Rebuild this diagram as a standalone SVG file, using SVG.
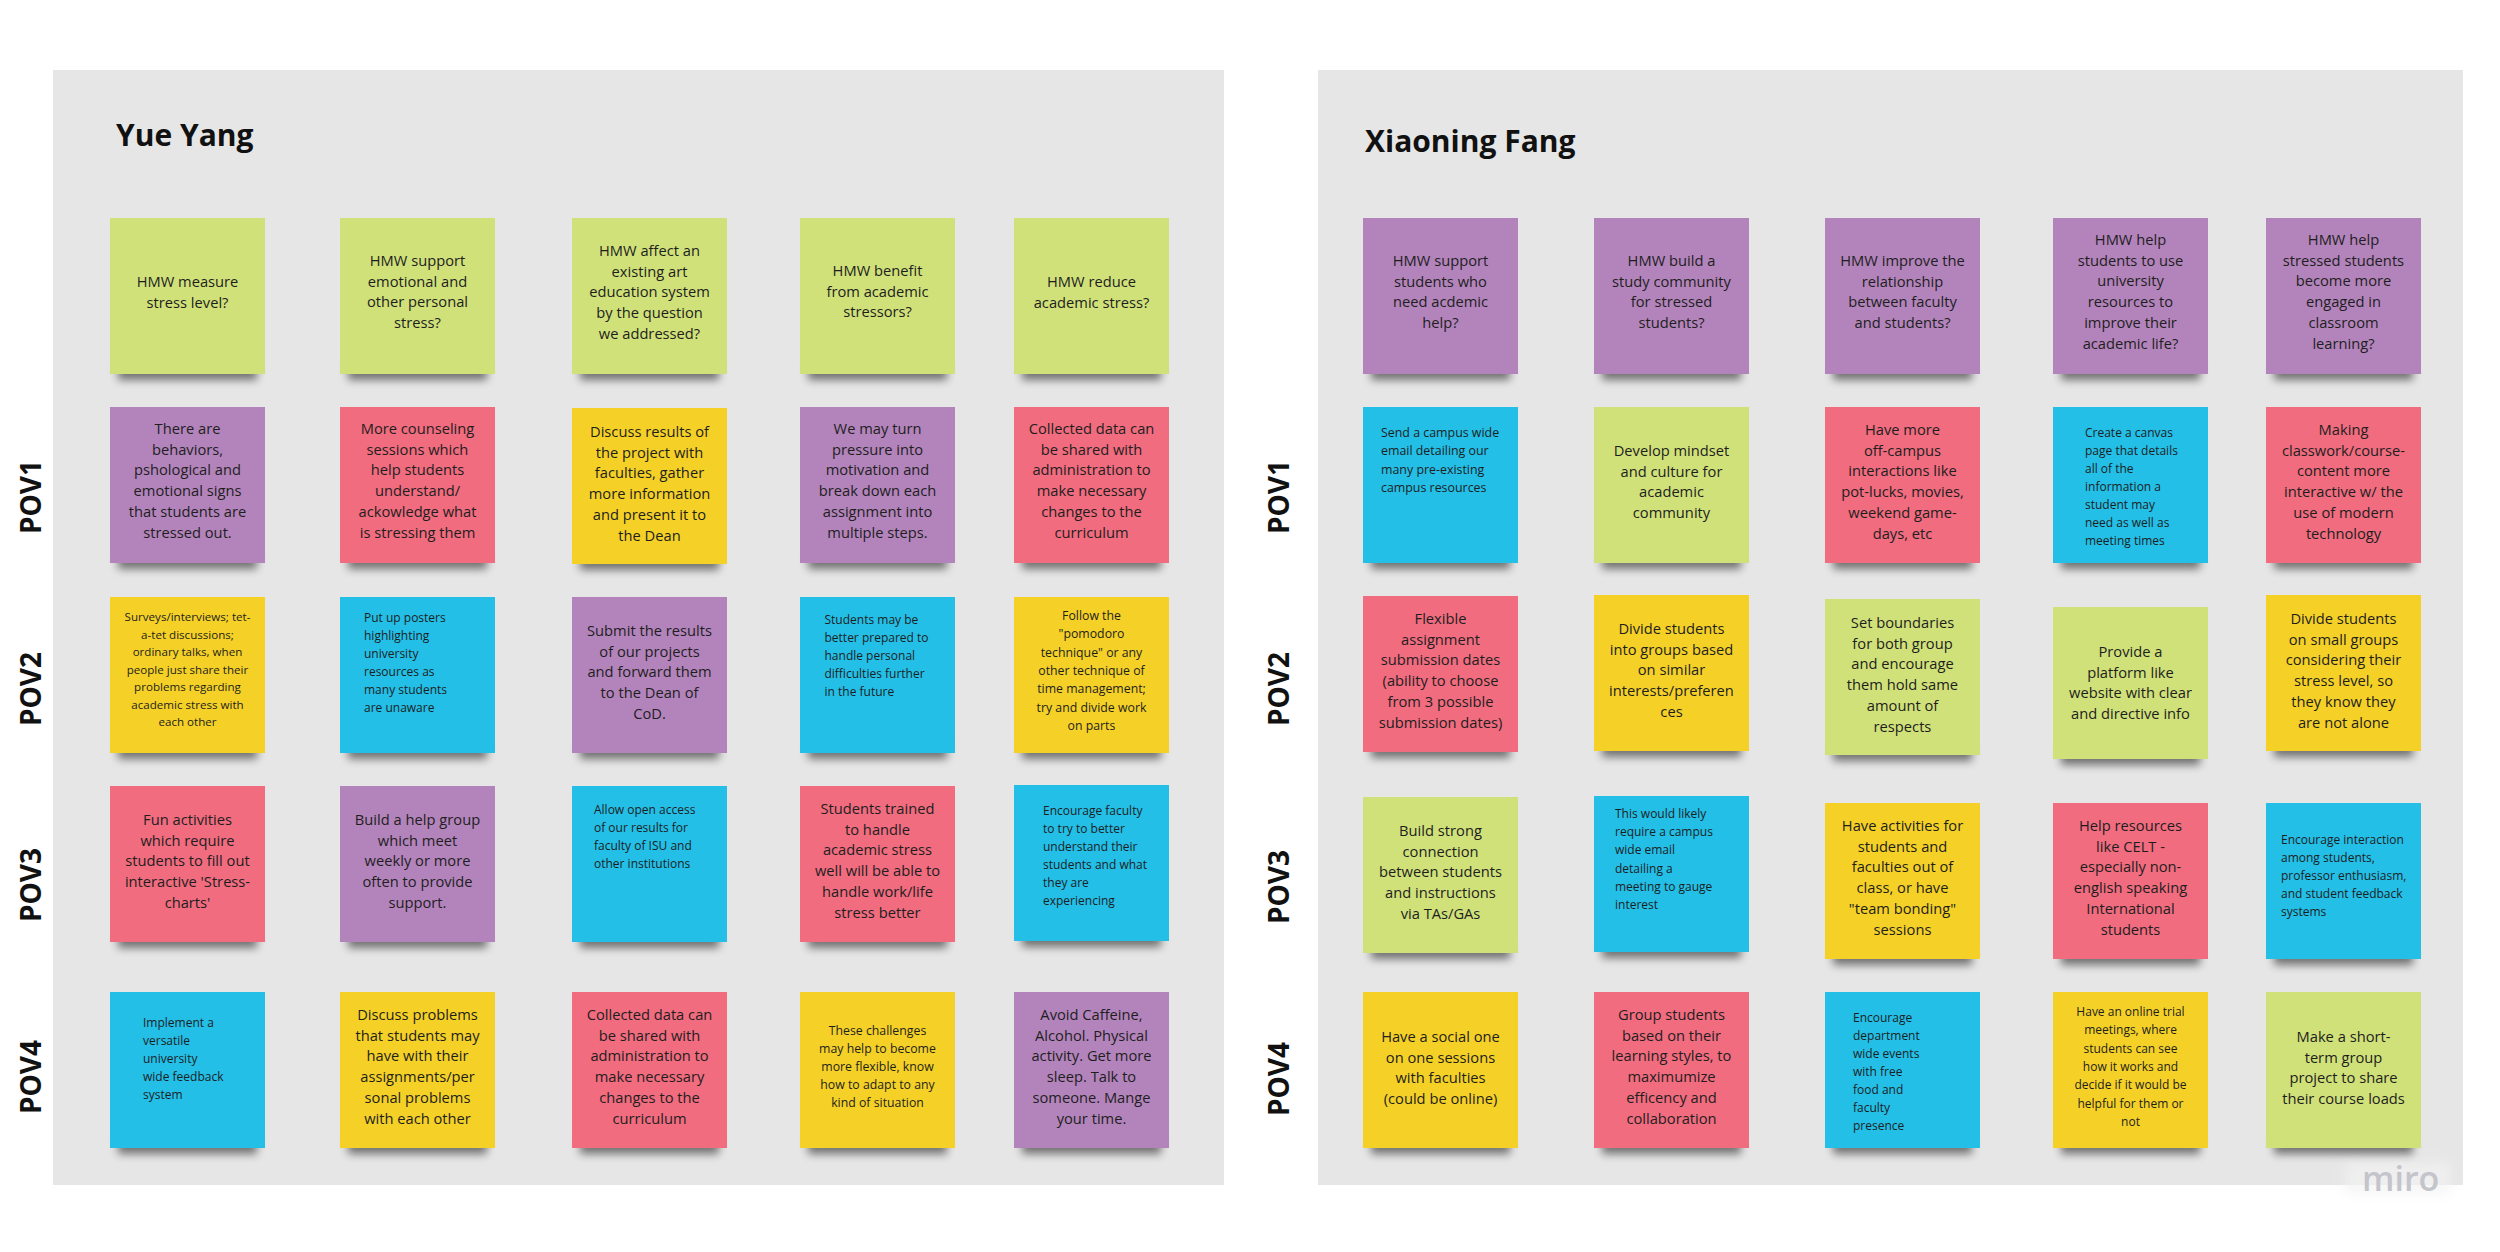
<svg xmlns="http://www.w3.org/2000/svg" width="2500" height="1252" viewBox="0 0 2500 1252">
<defs>
<filter id="blur" x="-20%" y="-100%" width="140%" height="300%"><feGaussianBlur stdDeviation="4"/></filter>
<filter id="soft" x="-20%" y="-50%" width="140%" height="200%"><feGaussianBlur stdDeviation="6"/></filter>
<style>
.panel{fill:#e6e6e6}
.sh{fill:#000;opacity:.5;filter:url(#blur)}
.g{fill:#d0e17a}.p{fill:#b384bb}.r{fill:#f16c7f}.y{fill:#f5d128}.b{fill:#23bfe7}
text{font-family:"Open Sans","Liberation Sans",sans-serif;fill:#1e1e1e}
.tb{font-size:14.7px}
.ts{font-size:12px}
.c{text-anchor:middle}
.title{font-size:30px;font-weight:700;fill:#111}
.pov{font-size:28px;font-weight:700;fill:#111;text-anchor:middle}
.miro{font-size:34px;font-weight:600;fill:#c4c4cc}
</style>
</defs>
<rect width="2500" height="1252" fill="#fff"/>
<rect class="panel" x="53" y="70" width="1171" height="1115"/>
<rect class="panel" x="1318" y="70" width="1145" height="1115"/>
<rect x="2345" y="1162" width="106" height="32" fill="#f3f3f3" opacity="0.7" filter="url(#soft)"/>
<text class="title" x="116" y="146">Yue Yang</text>
<text class="title" x="1365" y="152">Xiaoning Fang</text>
<g id="pov-labels">
<text class="pov" transform="rotate(-90 41 497)" x="41" y="497">POV1</text>
<text class="pov" transform="rotate(-90 41 689)" x="41" y="689">POV2</text>
<text class="pov" transform="rotate(-90 41 885)" x="41" y="885">POV3</text>
<text class="pov" transform="rotate(-90 41 1077)" x="41" y="1077">POV4</text>
<text class="pov" transform="rotate(-90 1289 497)" x="1289" y="497">POV1</text>
<text class="pov" transform="rotate(-90 1289 689)" x="1289" y="689">POV2</text>
<text class="pov" transform="rotate(-90 1289 887)" x="1289" y="887">POV3</text>
<text class="pov" transform="rotate(-90 1289 1079)" x="1289" y="1079">POV4</text>
</g>
<g id="connectors"/>

<!-- LEFT PANEL -->
<g id="l11"><rect class="sh" x="118" y="362" width="139" height="18"/><rect class="g" x="110" y="218" width="155" height="156"/>
<text class="tb c" y="287"><tspan x="187.5">HMW measure</tspan><tspan x="187.5" dy="20.7">stress level?</tspan></text></g>
<g id="l12"><rect class="sh" x="348" y="362" width="139" height="18"/><rect class="g" x="340" y="218" width="155" height="156"/>
<text class="tb c" y="266"><tspan x="417.5">HMW support</tspan><tspan x="417.5" dy="20.7">emotional and</tspan><tspan x="417.5" dy="20.7">other personal</tspan><tspan x="417.5" dy="20.7">stress?</tspan></text></g>
<g id="l13"><rect class="sh" x="580" y="362" width="139" height="18"/><rect class="g" x="572" y="218" width="155" height="156"/>
<text class="tb c" y="256"><tspan x="649.5">HMW affect an</tspan><tspan x="649.5" dy="20.7">existing art</tspan><tspan x="649.5" dy="20.7">education system</tspan><tspan x="649.5" dy="20.7">by the question</tspan><tspan x="649.5" dy="20.7">we addressed?</tspan></text></g>
<g id="l14"><rect class="sh" x="808" y="362" width="139" height="18"/><rect class="g" x="800" y="218" width="155" height="156"/>
<text class="tb c" y="276"><tspan x="877.5">HMW benefit</tspan><tspan x="877.5" dy="20.7">from academic</tspan><tspan x="877.5" dy="20.7">stressors?</tspan></text></g>
<g id="l15"><rect class="sh" x="1022" y="362" width="139" height="18"/><rect class="g" x="1014" y="218" width="155" height="156"/>
<text class="tb c" y="287"><tspan x="1091.5">HMW reduce</tspan><tspan x="1091.5" dy="20.7">academic stress?</tspan></text></g>

<g id="l21"><rect class="sh" x="118" y="551" width="139" height="18"/><rect class="p" x="110" y="407" width="155" height="156"/>
<text class="tb c" y="434"><tspan x="187.5">There are</tspan><tspan x="187.5" dy="20.7">behaviors,</tspan><tspan x="187.5" dy="20.7">pshological and</tspan><tspan x="187.5" dy="20.7">emotional signs</tspan><tspan x="187.5" dy="20.7">that students are</tspan><tspan x="187.5" dy="20.7">stressed out.</tspan></text></g>
<g id="l22"><rect class="sh" x="348" y="551" width="139" height="18"/><rect class="r" x="340" y="407" width="155" height="156"/>
<text class="tb c" y="434"><tspan x="417.5">More counseling</tspan><tspan x="417.5" dy="20.7">sessions which</tspan><tspan x="417.5" dy="20.7">help students</tspan><tspan x="417.5" dy="20.7">understand/</tspan><tspan x="417.5" dy="20.7">ackowledge what</tspan><tspan x="417.5" dy="20.7">is stressing them</tspan></text></g>
<g id="l23"><rect class="sh" x="580" y="552" width="139" height="18"/><rect class="y" x="572" y="408" width="155" height="156"/>
<text class="tb c" y="437"><tspan x="649.5">Discuss results of</tspan><tspan x="649.5" dy="20.7">the project with</tspan><tspan x="649.5" dy="20.7">faculties, gather</tspan><tspan x="649.5" dy="20.7">more information</tspan><tspan x="649.5" dy="20.7">and present it to</tspan><tspan x="649.5" dy="20.7">the Dean</tspan></text></g>
<g id="l24"><rect class="sh" x="808" y="551" width="139" height="18"/><rect class="p" x="800" y="407" width="155" height="156"/>
<text class="tb c" y="434"><tspan x="877.5">We may turn</tspan><tspan x="877.5" dy="20.7">pressure into</tspan><tspan x="877.5" dy="20.7">motivation and</tspan><tspan x="877.5" dy="20.7">break down each</tspan><tspan x="877.5" dy="20.7">assignment into</tspan><tspan x="877.5" dy="20.7">multiple steps.</tspan></text></g>
<g id="l25"><rect class="sh" x="1022" y="551" width="139" height="18"/><rect class="r" x="1014" y="407" width="155" height="156"/>
<text class="tb c" y="434"><tspan x="1091.5">Collected data can</tspan><tspan x="1091.5" dy="20.7">be shared with</tspan><tspan x="1091.5" dy="20.7">administration to</tspan><tspan x="1091.5" dy="20.7">make necessary</tspan><tspan x="1091.5" dy="20.7">changes to the</tspan><tspan x="1091.5" dy="20.7">curriculum</tspan></text></g>

<g id="l31"><rect class="sh" x="118" y="741" width="139" height="18"/><rect class="y" x="110" y="597" width="155" height="156"/>
<text class="ts c" style="font-size:11.6px" y="621"><tspan x="187.5">Surveys/interviews; tet-</tspan><tspan x="187.5" dy="17.5">a-tet discussions;</tspan><tspan x="187.5" dy="17.5">ordinary talks, when</tspan><tspan x="187.5" dy="17.5">people just share their</tspan><tspan x="187.5" dy="17.5">problems regarding</tspan><tspan x="187.5" dy="17.5">academic stress with</tspan><tspan x="187.5" dy="17.5">each other</tspan></text></g>
<g id="l32"><rect class="sh" x="348" y="741" width="139" height="18"/><rect class="b" x="340" y="597" width="155" height="156"/>
<text class="ts" y="622"><tspan x="364">Put up posters</tspan><tspan x="364" dy="18">highlighting</tspan><tspan x="364" dy="18">university</tspan><tspan x="364" dy="18">resources as</tspan><tspan x="364" dy="18">many students</tspan><tspan x="364" dy="18">are unaware</tspan></text></g>
<g id="l33"><rect class="sh" x="580" y="741" width="139" height="18"/><rect class="p" x="572" y="597" width="155" height="156"/>
<text class="tb c" y="636"><tspan x="649.5">Submit the results</tspan><tspan x="649.5" dy="20.7">of our projects</tspan><tspan x="649.5" dy="20.7">and forward them</tspan><tspan x="649.5" dy="20.7">to the Dean of</tspan><tspan x="649.5" dy="20.7">CoD.</tspan></text></g>
<g id="l34"><rect class="sh" x="808" y="741" width="139" height="18"/><rect class="b" x="800" y="597" width="155" height="156"/>
<text class="ts" y="624"><tspan x="824.5">Students may be</tspan><tspan x="824.5" dy="18">better prepared to</tspan><tspan x="824.5" dy="18">handle personal</tspan><tspan x="824.5" dy="18">difficulties further</tspan><tspan x="824.5" dy="18">in the future</tspan></text></g>
<g id="l35"><rect class="sh" x="1022" y="741" width="139" height="18"/><rect class="y" x="1014" y="597" width="155" height="156"/>
<text class="ts c" style="font-size:12.3px" y="620"><tspan x="1091.5">Follow the</tspan><tspan x="1091.5" dy="18.3">"pomodoro</tspan><tspan x="1091.5" dy="18.3">technique" or any</tspan><tspan x="1091.5" dy="18.3">other technique of</tspan><tspan x="1091.5" dy="18.3">time management;</tspan><tspan x="1091.5" dy="18.3">try and divide work</tspan><tspan x="1091.5" dy="18.3">on parts</tspan></text></g>

<g id="l41"><rect class="sh" x="118" y="930" width="139" height="18"/><rect class="r" x="110" y="786" width="155" height="156"/>
<text class="tb c" y="825"><tspan x="187.5">Fun activities</tspan><tspan x="187.5" dy="20.7">which require</tspan><tspan x="187.5" dy="20.7">students to fill out</tspan><tspan x="187.5" dy="20.7">interactive 'Stress-</tspan><tspan x="187.5" dy="20.7">charts'</tspan></text></g>
<g id="l42"><rect class="sh" x="348" y="930" width="139" height="18"/><rect class="p" x="340" y="786" width="155" height="156"/>
<text class="tb c" y="825"><tspan x="417.5">Build a help group</tspan><tspan x="417.5" dy="20.7">which meet</tspan><tspan x="417.5" dy="20.7">weekly or more</tspan><tspan x="417.5" dy="20.7">often to provide</tspan><tspan x="417.5" dy="20.7">support.</tspan></text></g>
<g id="l43"><rect class="sh" x="580" y="930" width="139" height="18"/><rect class="b" x="572" y="786" width="155" height="156"/>
<text class="ts" y="814"><tspan x="594">Allow open access</tspan><tspan x="594" dy="18">of our results for</tspan><tspan x="594" dy="18">faculty of ISU and</tspan><tspan x="594" dy="18">other institutions</tspan></text></g>
<g id="l44"><rect class="sh" x="808" y="930" width="139" height="18"/><rect class="r" x="800" y="786" width="155" height="156"/>
<text class="tb c" y="814"><tspan x="877.5">Students trained</tspan><tspan x="877.5" dy="20.7">to handle</tspan><tspan x="877.5" dy="20.7">academic stress</tspan><tspan x="877.5" dy="20.7">well will be able to</tspan><tspan x="877.5" dy="20.7">handle work/life</tspan><tspan x="877.5" dy="20.7">stress better</tspan></text></g>
<g id="l45"><rect class="sh" x="1022" y="929" width="139" height="18"/><rect class="b" x="1014" y="785" width="155" height="156"/>
<text class="ts" y="815"><tspan x="1043">Encourage faculty</tspan><tspan x="1043" dy="18">to try to better</tspan><tspan x="1043" dy="18">understand their</tspan><tspan x="1043" dy="18">students and what</tspan><tspan x="1043" dy="18">they are</tspan><tspan x="1043" dy="18">experiencing</tspan></text></g>

<g id="l51"><rect class="sh" x="118" y="1136" width="139" height="18"/><rect class="b" x="110" y="992" width="155" height="156"/>
<text class="ts" y="1027"><tspan x="143">Implement a</tspan><tspan x="143" dy="18">versatile</tspan><tspan x="143" dy="18">university</tspan><tspan x="143" dy="18">wide feedback</tspan><tspan x="143" dy="18">system</tspan></text></g>
<g id="l52"><rect class="sh" x="348" y="1136" width="139" height="18"/><rect class="y" x="340" y="992" width="155" height="156"/>
<text class="tb c" y="1020"><tspan x="417.5">Discuss problems</tspan><tspan x="417.5" dy="20.7">that students may</tspan><tspan x="417.5" dy="20.7">have with their</tspan><tspan x="417.5" dy="20.7">assignments/per</tspan><tspan x="417.5" dy="20.7">sonal problems</tspan><tspan x="417.5" dy="20.7">with each other</tspan></text></g>
<g id="l53"><rect class="sh" x="580" y="1136" width="139" height="18"/><rect class="r" x="572" y="992" width="155" height="156"/>
<text class="tb c" y="1020"><tspan x="649.5">Collected data can</tspan><tspan x="649.5" dy="20.7">be shared with</tspan><tspan x="649.5" dy="20.7">administration to</tspan><tspan x="649.5" dy="20.7">make necessary</tspan><tspan x="649.5" dy="20.7">changes to the</tspan><tspan x="649.5" dy="20.7">curriculum</tspan></text></g>
<g id="l54"><rect class="sh" x="808" y="1136" width="139" height="18"/><rect class="y" x="800" y="992" width="155" height="156"/>
<text class="ts c" style="font-size:12.3px" y="1035"><tspan x="877.5">These challenges</tspan><tspan x="877.5" dy="18">may help to become</tspan><tspan x="877.5" dy="18">more flexible, know</tspan><tspan x="877.5" dy="18">how to adapt to any</tspan><tspan x="877.5" dy="18">kind of situation</tspan></text></g>
<g id="l55"><rect class="sh" x="1022" y="1136" width="139" height="18"/><rect class="p" x="1014" y="992" width="155" height="156"/>
<text class="tb c" y="1020"><tspan x="1091.5">Avoid Caffeine,</tspan><tspan x="1091.5" dy="20.7">Alcohol. Physical</tspan><tspan x="1091.5" dy="20.7">activity. Get more</tspan><tspan x="1091.5" dy="20.7">sleep. Talk to</tspan><tspan x="1091.5" dy="20.7">someone. Mange</tspan><tspan x="1091.5" dy="20.7">your time.</tspan></text></g>

<!-- RIGHT PANEL -->
<g id="r11"><rect class="sh" x="1371" y="362" width="139" height="18"/><rect class="p" x="1363" y="218" width="155" height="156"/>
<text class="tb c" y="266"><tspan x="1440.5">HMW support</tspan><tspan x="1440.5" dy="20.7">students who</tspan><tspan x="1440.5" dy="20.7">need acdemic</tspan><tspan x="1440.5" dy="20.7">help?</tspan></text></g>
<g id="r12"><rect class="sh" x="1602" y="362" width="139" height="18"/><rect class="p" x="1594" y="218" width="155" height="156"/>
<text class="tb c" y="266"><tspan x="1671.5">HMW build a</tspan><tspan x="1671.5" dy="20.7">study community</tspan><tspan x="1671.5" dy="20.7">for stressed</tspan><tspan x="1671.5" dy="20.7">students?</tspan></text></g>
<g id="r13"><rect class="sh" x="1833" y="362" width="139" height="18"/><rect class="p" x="1825" y="218" width="155" height="156"/>
<text class="tb c" y="266"><tspan x="1902.5">HMW improve the</tspan><tspan x="1902.5" dy="20.7">relationship</tspan><tspan x="1902.5" dy="20.7">between faculty</tspan><tspan x="1902.5" dy="20.7">and students?</tspan></text></g>
<g id="r14"><rect class="sh" x="2061" y="362" width="139" height="18"/><rect class="p" x="2053" y="218" width="155" height="156"/>
<text class="tb c" y="245"><tspan x="2130.5">HMW help</tspan><tspan x="2130.5" dy="20.7">students to use</tspan><tspan x="2130.5" dy="20.7">university</tspan><tspan x="2130.5" dy="20.7">resources to</tspan><tspan x="2130.5" dy="20.7">improve their</tspan><tspan x="2130.5" dy="20.7">academic life?</tspan></text></g>
<g id="r15"><rect class="sh" x="2274" y="362" width="139" height="18"/><rect class="p" x="2266" y="218" width="155" height="156"/>
<text class="tb c" y="245"><tspan x="2343.5">HMW help</tspan><tspan x="2343.5" dy="20.7">stressed students</tspan><tspan x="2343.5" dy="20.7">become more</tspan><tspan x="2343.5" dy="20.7">engaged in</tspan><tspan x="2343.5" dy="20.7">classroom</tspan><tspan x="2343.5" dy="20.7">learning?</tspan></text></g>

<g id="r21"><rect class="sh" x="1371" y="551" width="139" height="18"/><rect class="b" x="1363" y="407" width="155" height="156"/>
<text class="ts" style="font-size:12.4px" y="437"><tspan x="1381">Send a campus wide</tspan><tspan x="1381" dy="18.3">email detailing our</tspan><tspan x="1381" dy="18.3">many pre-existing</tspan><tspan x="1381" dy="18.3">campus resources</tspan></text></g>
<g id="r22"><rect class="sh" x="1602" y="551" width="139" height="18"/><rect class="g" x="1594" y="407" width="155" height="156"/>
<text class="tb c" y="456"><tspan x="1671.5">Develop mindset</tspan><tspan x="1671.5" dy="20.7">and culture for</tspan><tspan x="1671.5" dy="20.7">academic</tspan><tspan x="1671.5" dy="20.7">community</tspan></text></g>
<g id="r23"><rect class="sh" x="1833" y="551" width="139" height="18"/><rect class="r" x="1825" y="407" width="155" height="156"/>
<text class="tb c" y="435"><tspan x="1902.5">Have more</tspan><tspan x="1902.5" dy="20.7">off-campus</tspan><tspan x="1902.5" dy="20.7">interactions like</tspan><tspan x="1902.5" dy="20.7">pot-lucks, movies,</tspan><tspan x="1902.5" dy="20.7">weekend game-</tspan><tspan x="1902.5" dy="20.7">days, etc</tspan></text></g>
<g id="r24"><rect class="sh" x="2061" y="551" width="139" height="18"/><rect class="b" x="2053" y="407" width="155" height="156"/>
<text class="ts" y="437"><tspan x="2085">Create a canvas</tspan><tspan x="2085" dy="18">page that details</tspan><tspan x="2085" dy="18">all of the</tspan><tspan x="2085" dy="18">information a</tspan><tspan x="2085" dy="18">student may</tspan><tspan x="2085" dy="18">need as well as</tspan><tspan x="2085" dy="18">meeting times</tspan></text></g>
<g id="r25"><rect class="sh" x="2274" y="551" width="139" height="18"/><rect class="r" x="2266" y="407" width="155" height="156"/>
<text class="tb c" y="435"><tspan x="2343.5">Making</tspan><tspan x="2343.5" dy="20.7">classwork/course-</tspan><tspan x="2343.5" dy="20.7">content more</tspan><tspan x="2343.5" dy="20.7">interactive w/ the</tspan><tspan x="2343.5" dy="20.7">use of modern</tspan><tspan x="2343.5" dy="20.7">technology</tspan></text></g>

<g id="r31"><rect class="sh" x="1371" y="740" width="139" height="18"/><rect class="r" x="1363" y="596" width="155" height="156"/>
<text class="tb c" y="624"><tspan x="1440.5">Flexible</tspan><tspan x="1440.5" dy="20.7">assignment</tspan><tspan x="1440.5" dy="20.7">submission dates</tspan><tspan x="1440.5" dy="20.7">(ability to choose</tspan><tspan x="1440.5" dy="20.7">from 3 possible</tspan><tspan x="1440.5" dy="20.7">submission dates)</tspan></text></g>
<g id="r32"><rect class="sh" x="1602" y="739" width="139" height="18"/><rect class="y" x="1594" y="595" width="155" height="156"/>
<text class="tb c" y="634"><tspan x="1671.5">Divide students</tspan><tspan x="1671.5" dy="20.7">into groups based</tspan><tspan x="1671.5" dy="20.7">on similar</tspan><tspan x="1671.5" dy="20.7">interests/preferen</tspan><tspan x="1671.5" dy="20.7">ces</tspan></text></g>
<g id="r33"><rect class="sh" x="1833" y="743" width="139" height="18"/><rect class="g" x="1825" y="599" width="155" height="156"/>
<text class="tb c" y="628"><tspan x="1902.5">Set boundaries</tspan><tspan x="1902.5" dy="20.7">for both group</tspan><tspan x="1902.5" dy="20.7">and encourage</tspan><tspan x="1902.5" dy="20.7">them hold same</tspan><tspan x="1902.5" dy="20.7">amount of</tspan><tspan x="1902.5" dy="20.7">respects</tspan></text></g>
<g id="r34"><rect class="sh" x="2061" y="747" width="139" height="18"/><rect class="g" x="2053" y="607" width="155" height="152"/>
<text class="tb c" y="657"><tspan x="2130.5">Provide a</tspan><tspan x="2130.5" dy="20.7">platform like</tspan><tspan x="2130.5" dy="20.7">website with clear</tspan><tspan x="2130.5" dy="20.7">and directive info</tspan></text></g>
<g id="r35"><rect class="sh" x="2274" y="739" width="139" height="18"/><rect class="y" x="2266" y="595" width="155" height="156"/>
<text class="tb c" y="624"><tspan x="2343.5">Divide students</tspan><tspan x="2343.5" dy="20.7">on small groups</tspan><tspan x="2343.5" dy="20.7">considering their</tspan><tspan x="2343.5" dy="20.7">stress level, so</tspan><tspan x="2343.5" dy="20.7">they know they</tspan><tspan x="2343.5" dy="20.7">are not alone</tspan></text></g>

<g id="r41"><rect class="sh" x="1371" y="941" width="139" height="18"/><rect class="g" x="1363" y="797" width="155" height="156"/>
<text class="tb c" y="836"><tspan x="1440.5">Build strong</tspan><tspan x="1440.5" dy="20.7">connection</tspan><tspan x="1440.5" dy="20.7">between students</tspan><tspan x="1440.5" dy="20.7">and instructions</tspan><tspan x="1440.5" dy="20.7">via TAs/GAs</tspan></text></g>
<g id="r42"><rect class="sh" x="1602" y="940" width="139" height="18"/><rect class="b" x="1594" y="796" width="155" height="156"/>
<text class="ts" y="818"><tspan x="1615">This would likely</tspan><tspan x="1615" dy="18.2">require a campus</tspan><tspan x="1615" dy="18.2">wide email</tspan><tspan x="1615" dy="18.2">detailing a</tspan><tspan x="1615" dy="18.2">meeting to gauge</tspan><tspan x="1615" dy="18.2">interest</tspan></text></g>
<g id="r43"><rect class="sh" x="1833" y="947" width="139" height="18"/><rect class="y" x="1825" y="803" width="155" height="156"/>
<text class="tb c" y="831"><tspan x="1902.5">Have activities for</tspan><tspan x="1902.5" dy="20.7">students and</tspan><tspan x="1902.5" dy="20.7">faculties out of</tspan><tspan x="1902.5" dy="20.7">class, or have</tspan><tspan x="1902.5" dy="20.7">"team bonding"</tspan><tspan x="1902.5" dy="20.7">sessions</tspan></text></g>
<g id="r44"><rect class="sh" x="2061" y="947" width="139" height="18"/><rect class="r" x="2053" y="803" width="155" height="156"/>
<text class="tb c" y="831"><tspan x="2130.5">Help resources</tspan><tspan x="2130.5" dy="20.7">like CELT -</tspan><tspan x="2130.5" dy="20.7">especially non-</tspan><tspan x="2130.5" dy="20.7">english speaking</tspan><tspan x="2130.5" dy="20.7">International</tspan><tspan x="2130.5" dy="20.7">students</tspan></text></g>
<g id="r45"><rect class="sh" x="2274" y="947" width="139" height="18"/><rect class="b" x="2266" y="803" width="155" height="156"/>
<text class="ts" y="844"><tspan x="2281">Encourage interaction</tspan><tspan x="2281" dy="18">among students,</tspan><tspan x="2281" dy="18">professor enthusiasm,</tspan><tspan x="2281" dy="18">and student feedback</tspan><tspan x="2281" dy="18">systems</tspan></text></g>

<g id="r51"><rect class="sh" x="1371" y="1136" width="139" height="18"/><rect class="y" x="1363" y="992" width="155" height="156"/>
<text class="tb c" y="1042"><tspan x="1440.5">Have a social one</tspan><tspan x="1440.5" dy="20.7">on one sessions</tspan><tspan x="1440.5" dy="20.7">with faculties</tspan><tspan x="1440.5" dy="20.7">(could be online)</tspan></text></g>
<g id="r52"><rect class="sh" x="1602" y="1136" width="139" height="18"/><rect class="r" x="1594" y="992" width="155" height="156"/>
<text class="tb c" y="1020"><tspan x="1671.5">Group students</tspan><tspan x="1671.5" dy="20.7">based on their</tspan><tspan x="1671.5" dy="20.7">learning styles, to</tspan><tspan x="1671.5" dy="20.7">maximumize</tspan><tspan x="1671.5" dy="20.7">efficency and</tspan><tspan x="1671.5" dy="20.7">collaboration</tspan></text></g>
<g id="r53"><rect class="sh" x="1833" y="1136" width="139" height="18"/><rect class="b" x="1825" y="992" width="155" height="156"/>
<text class="ts" y="1022"><tspan x="1853">Encourage</tspan><tspan x="1853" dy="18">department</tspan><tspan x="1853" dy="18">wide events</tspan><tspan x="1853" dy="18">with free</tspan><tspan x="1853" dy="18">food and</tspan><tspan x="1853" dy="18">faculty</tspan><tspan x="1853" dy="18">presence</tspan></text></g>
<g id="r54"><rect class="sh" x="2061" y="1136" width="139" height="18"/><rect class="y" x="2053" y="992" width="155" height="156"/>
<text class="ts c" y="1016"><tspan x="2130.5">Have an online trial</tspan><tspan x="2130.5" dy="18.3">meetings, where</tspan><tspan x="2130.5" dy="18.3">students can see</tspan><tspan x="2130.5" dy="18.3">how it works and</tspan><tspan x="2130.5" dy="18.3">decide if it would be</tspan><tspan x="2130.5" dy="18.3">helpful for them or</tspan><tspan x="2130.5" dy="18.3">not</tspan></text></g>
<g id="r55"><rect class="sh" x="2274" y="1136" width="139" height="18"/><rect class="g" x="2266" y="992" width="155" height="156"/>
<text class="tb c" y="1042"><tspan x="2343.5">Make a short-</tspan><tspan x="2343.5" dy="20.7">term group</tspan><tspan x="2343.5" dy="20.7">project to share</tspan><tspan x="2343.5" dy="20.7">their course loads</tspan></text></g>

<text class="miro" x="2362" y="1191">miro</text>
</svg>
